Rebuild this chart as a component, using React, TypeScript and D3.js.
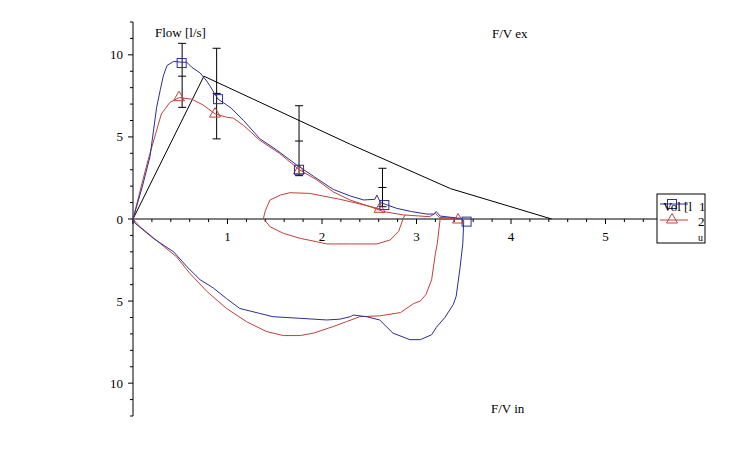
import * as React from "react";
import * as d3 from "d3";

type Pt = [number, number];

// series 1 (blue): expiration then inspiration, volume [l] vs flow [l/s]
const series1: Pt[] = [
  [0, 0], [0.1, 2.0], [0.18, 3.8], [0.25, 6.8], [0.29, 7.9], [0.32, 8.7],
  [0.36, 9.35], [0.43, 9.6], [0.52, 9.55], [0.57, 9.55], [0.62, 9.25],
  [0.71, 8.9], [0.78, 8.4], [0.81, 8.15], [0.9, 7.3], [0.99, 6.95],
  [1.04, 6.75], [1.17, 6.0], [1.34, 4.9], [1.52, 4.2], [1.73, 3.3],
  [1.91, 2.6], [2.08, 1.95], [2.12, 1.8], [2.3, 1.4], [2.44, 1.16],
  [2.56, 1.2], [2.58, 1.46], [2.62, 1.0], [2.79, 0.65], [2.95, 0.45],
  [3.11, 0.3], [3.18, 0.3], [3.21, 0.45], [3.25, 0.18], [3.46, 0.04],
  [3.5, -0.1], [3.49, -1.5], [3.46, -3.0], [3.42, -4.7], [3.39, -5.2],
  [3.3, -6.0], [3.21, -6.6], [3.16, -7.05], [3.04, -7.35], [2.93, -7.35],
  [2.75, -6.95], [2.61, -6.15], [2.47, -5.95], [2.33, -5.85], [2.3, -5.95],
  [2.19, -6.1], [2.05, -6.15], [1.77, -6.05], [1.48, -5.95], [1.34, -5.75],
  [1.13, -5.45], [0.99, -4.85], [0.85, -4.2], [0.71, -3.7], [0.57, -2.9],
  [0.43, -2.0], [0.22, -1.2], [0.02, -0.25], [0, 0],
];

// series 2 (red), main loop
const series2: Pt[] = [
  [0, 0], [0.11, 2.5], [0.16, 3.6], [0.23, 5.0], [0.3, 6.4], [0.39, 7.1],
  [0.49, 7.4], [0.62, 7.3], [0.74, 6.95], [0.87, 6.4], [0.99, 6.2],
  [1.06, 6.15], [1.17, 5.7], [1.34, 4.8], [1.55, 4.0], [1.76, 3.0],
  [1.94, 2.4], [2.12, 1.65], [2.3, 1.15], [2.51, 0.75], [2.65, 0.45],
  [2.86, 0.25], [3.14, 0.14], [3.2, 0.35], [3.24, 0.1], [3.42, 0.04],
  [3.44, 0], [3.25, 0], [3.22, -1.5], [3.2, -2.1], [3.16, -3.7],
  [3.1, -4.6], [3.04, -5.0], [2.97, -5.15], [2.83, -5.7], [2.61, -5.9],
  [2.4, -5.95], [2.26, -6.25], [2.12, -6.55], [1.91, -6.95], [1.77, -7.1],
  [1.59, -7.1], [1.41, -6.85], [1.2, -6.25], [0.99, -5.45], [0.78, -4.4],
  [0.6, -3.3], [0.46, -2.3], [0.29, -1.5], [0.07, -0.45], [0, 0],
];

// series 2 (red), small extra loop
const series2b: Pt[] = [
  [2.62, 0.6], [2.54, 0.72], [2.37, 0.96], [2.19, 1.2], [2.01, 1.4],
  [1.87, 1.56], [1.66, 1.6], [1.56, 1.46], [1.45, 1.16], [1.4, 0.5],
  [1.38, 0.04], [1.45, -0.47], [1.59, -0.87], [1.77, -1.18], [1.94, -1.38],
  [2.05, -1.52], [2.3, -1.52], [2.58, -1.52], [2.72, -1.28], [2.81, -0.77],
  [2.86, 0.04], [2.88, 0.25],
];

const markers1: Pt[] = [[0.515, 9.5], [0.9, 7.3], [1.757, 3.0], [2.66, 0.85], [3.53, -0.16]];
const markers2: Pt[] = [[0.487, 7.45], [0.868, 6.45], [1.757, 3.0], [2.61, 0.65], [3.44, 0.0]];

// predicted curve and its error bars
const predicted: Pt[] = [[0, 0], [0.75, 8.7], [2.3, 4.55], [3.36, 1.85], [4.43, 0]];
const errX = [0.52, 0.885, 1.757, 2.64];
const errMid = [8.7, 7.65, 4.75, 1.92];
const errLow = [6.8, 4.88, 2.64, 0.75];
const errHigh = [10.7, 10.4, 6.9, 3.09];

const xLabels = [1, 2, 3, 4, 5];
const yLabels = [-10, -5, 0, 5, 10];

const BLUE = "#2b2f8f";
const RED = "#c0403c";
const FONT = "Liberation Serif, serif";

export default function App() {
  const x = d3.scaleLinear().domain([0, 6]).range([133, 700]);
  const y = d3.scaleLinear().domain([-12, 12]).range([416, 22]);
  const line = d3
    .line<Pt>()
    .x((d) => x(d[0]))
    .y((d) => y(d[1]));

  const xMinor = d3.range(0, 30).map((i) => i * 0.2);
  const yMinor = d3.range(-12, 13);

  const square = (p: Pt, i: number) => (
    <rect key={i} x={x(p[0]) - 4.5} y={y(p[1]) - 4.5} width={9} height={9} fill="none" stroke={BLUE} />
  );
  const triangle = (p: Pt, i: number) => {
    const cx = x(p[0]);
    const cy = y(p[1]);
    return (
      <path key={i} d={`M${cx},${cy - 5.5}L${cx + 5.5},${cy + 4}L${cx - 5.5},${cy + 4}Z`} fill="none" stroke={RED} />
    );
  };

  return (
    <svg width={745} height={460} style={{ position: "fixed", left: 0, top: 0, background: "#fff" }} fontFamily={FONT}>
      {/* axes */}
      <g stroke="#000" strokeWidth={1}>
        <line x1={x(0)} x2={x(6)} y1={y(0)} y2={y(0)} />
        {xMinor.map((t, i) => (
          <line key={i} x1={x(t)} x2={x(t)} y1={y(0)} y2={y(0) + (i % 5 === 0 ? 5 : 3)} />
        ))}
        <line x1={x(0)} x2={x(0)} y1={y(12)} y2={y(-12)} />
        {yMinor.map((t, i) => (
          <line key={i} x1={x(0)} x2={x(0) - (t % 5 === 0 ? 5 : 3)} y1={y(t)} y2={y(t)} />
        ))}
      </g>
      <g fontSize={13} fill="#000">
        {xLabels.map((t) => (
          <text key={t} x={x(t)} y={y(0) + 22} textAnchor="middle">
            {t}
          </text>
        ))}
        {yLabels.map((t) => (
          <text key={t} x={x(0) - 10} y={y(t) + 4.5} textAnchor="end">
            {Math.abs(t)}
          </text>
        ))}
      </g>

      {/* predicted */}
      <path d={line(predicted) ?? ""} fill="none" stroke="#000" strokeWidth={1} />
      <g stroke="#000" strokeWidth={1}>
        {errX.map((v, i) => (
          <g key={i}>
            <line x1={x(v)} x2={x(v)} y1={y(errLow[i])} y2={y(errHigh[i])} />
            <line x1={x(v) - 4} x2={x(v) + 4} y1={y(errLow[i])} y2={y(errLow[i])} />
            <line x1={x(v) - 4} x2={x(v) + 4} y1={y(errHigh[i])} y2={y(errHigh[i])} />
            <line x1={x(v) - 4} x2={x(v) + 4} y1={y(errMid[i])} y2={y(errMid[i])} />
          </g>
        ))}
      </g>

      {/* measured */}
      <path d={line(series2) ?? ""} fill="none" stroke={RED} strokeWidth={1} />
      <path d={line(series2b) ?? ""} fill="none" stroke={RED} strokeWidth={1} />
      <path d={line(series1) ?? ""} fill="none" stroke={BLUE} strokeWidth={1} />
      {markers2.map(triangle)}
      {markers1.map(square)}

      {/* titles */}
      <g fontSize={13} fill="#000">
        <text x={155} y={37}>Flow [l/s]</text>
        <text x={492} y={38}>F/V ex</text>
        <text x={491} y={413}>F/V in</text>
      </g>

      {/* legend */}
      <rect x={657} y={194} width={48} height={49} fill="#fff" stroke="#000" />
      <line x1={660} x2={688} y1={204} y2={204} stroke={BLUE} />
      {square([(672 - 133) / 94.5, (219 - 204) / 16.42], 0)}
      <line x1={660} x2={688} y1={220} y2={220} stroke={RED} />
      {triangle([(672 - 133) / 94.5, (219 - 219) / 16.42], 0)}
      <g fontSize={13} fill="#000">
        <text x={663} y={211}>Vol [l</text>
        <text x={699} y={211}>1</text>
        <text x={698} y={226}>2</text>
        <text x={698} y={241} fontSize={10}>u</text>
      </g>
    </svg>
  );
}
